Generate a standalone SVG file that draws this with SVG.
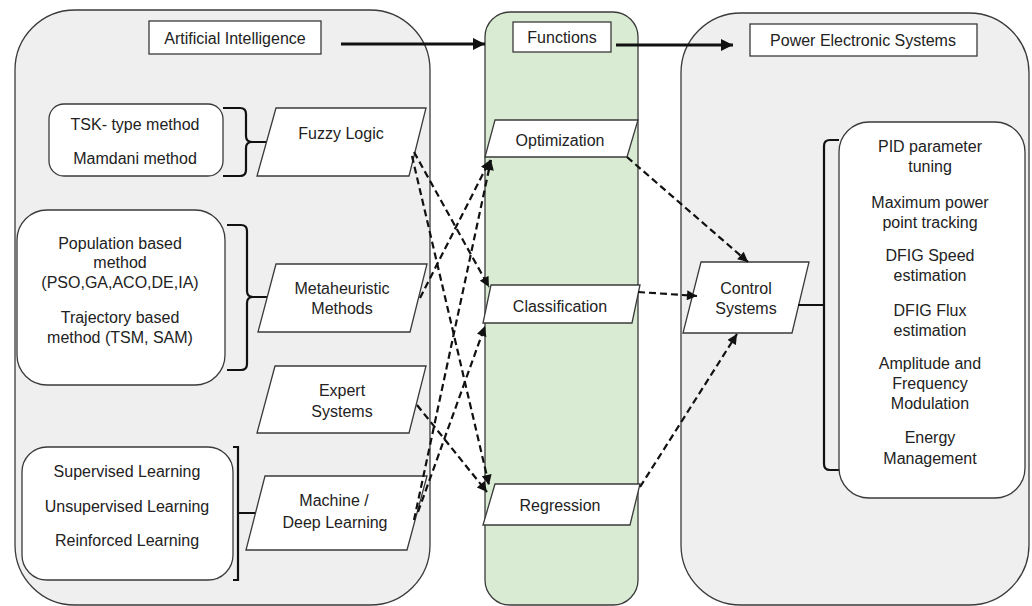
<svg xmlns="http://www.w3.org/2000/svg" width="1032" height="606" viewBox="0 0 1032 606">
  <defs>
    <style>
      .panel { fill: #efefef; stroke: #3a3a3a; stroke-width: 1.3; }
      .green { fill: #d9ecd3; stroke: #3a3a3a; stroke-width: 1.3; }
      .box { fill: #ffffff; stroke: #3a3a3a; stroke-width: 1.3; }
      .brace { fill: none; stroke: #111; stroke-width: 2.2; }
      .t { font-family: "Liberation Sans", Arial, sans-serif; font-size: 16px; fill: #222; text-anchor: middle; }
      .dash { fill: none; stroke: #111; stroke-width: 2.2; stroke-dasharray: 7 4; marker-end: url(#ah); }
      .solid { fill: none; stroke: #111; stroke-width: 3; marker-end: url(#big); }
    </style>
    <marker id="ah" viewBox="0 0 10 10" refX="10" refY="5" markerWidth="11" markerHeight="10" markerUnits="userSpaceOnUse" orient="auto">
      <path d="M0,0 L10,5 L0,10 z" fill="#111"/>
    </marker>
    <marker id="big" viewBox="0 0 10 10" refX="10" refY="5" markerWidth="14" markerHeight="12" markerUnits="userSpaceOnUse" orient="auto">
      <path d="M0,0 L10,5 L0,10 z" fill="#111"/>
    </marker>
  </defs>

  <!-- containers -->
  <g id="ai-panel">
    <rect class="panel" x="15" y="10" width="415" height="595" rx="60" ry="60"/>
    <rect class="box" x="149" y="21" width="172" height="33"/>
    <text class="t" x="235" y="43.5">Artificial Intelligence</text>
  </g>
  <g id="functions-panel">
    <rect class="green" x="485" y="12" width="153" height="593" rx="25" ry="25"/>
    <rect class="box" x="513" y="22" width="98" height="30"/>
    <text class="t" x="562" y="42.5">Functions</text>
  </g>
  <g id="pes-panel">
    <rect class="panel" x="681" y="13" width="348" height="592" rx="60" ry="60"/>
    <rect class="box" x="750" y="24" width="227" height="32"/>
    <text class="t" x="863" y="45.5">Power Electronic Systems</text>
  </g>

  <!-- AI techniques -->
  <g id="fuzzy-methods">
    <rect class="box" x="49" y="104" width="174" height="72" rx="15" ry="15"/>
    <text class="t" x="135" y="129.5">TSK- type method</text>
    <text class="t" x="135" y="163.5">Mamdani method</text>
    <path class="brace" d="M223,108 H240 Q246,108 246,114 V136 Q246,142 252,142 H267 M252,142 Q246,142 246,148 V170 Q246,176 240,176 H223"/>
  </g>
  <g id="fuzzy-logic">
    <polygon class="box" points="276,108 426,108 409,176 257,176"/>
    <text class="t" x="341" y="138.5">Fuzzy Logic</text>
  </g>

  <g id="meta-methods">
    <rect class="box" x="17" y="210" width="208" height="175" rx="30" ry="30"/>
    <text class="t" x="120" y="248.5">Population based</text>
    <text class="t" x="120" y="267.5">method</text>
    <text class="t" x="120" y="287.5">(PSO,GA,ACO,DE,IA)</text>
    <text class="t" x="120" y="322.5">Trajectory based</text>
    <text class="t" x="120" y="342.5">method (TSM, SAM)</text>
    <path class="brace" d="M227,225 H241 Q247,225 247,231 V291 Q247,297 253,297 H267 M253,297 Q247,297 247,303 V364 Q247,370 241,370 H227"/>
  </g>
  <g id="metaheuristic">
    <polygon class="box" points="276,264 427,264 410,332 258,332"/>
    <text class="t" x="342" y="293.5">Metaheuristic</text>
    <text class="t" x="342" y="313.5">Methods</text>
  </g>

  <g id="expert-systems">
    <polygon class="box" points="275,366 426,366 409,433 257,433"/>
    <text class="t" x="342" y="395.5">Expert</text>
    <text class="t" x="342" y="416.5">Systems</text>
  </g>

  <g id="ml-methods">
    <rect class="box" x="22" y="447" width="211" height="133" rx="25" ry="25"/>
    <text class="t" x="127" y="476.5">Supervised Learning</text>
    <text class="t" x="127" y="511.5">Unsupervised Learning</text>
    <text class="t" x="127" y="545.5">Reinforced Learning</text>
    <path class="brace" d="M233,447 H238 V580 H233 M238,513 H256"/>
  </g>
  <g id="machine-learning">
    <polygon class="box" points="265,476 427,476 407,550 246,550"/>
    <text class="t" x="334" y="505.5">Machine /</text>
    <text class="t" x="335" y="527.5">Deep Learning</text>
  </g>

  <!-- functions -->
  <g id="optimization">
    <polygon class="box" points="495,120 638,120 627,157 485,157"/>
    <text class="t" x="560" y="145.5">Optimization</text>
  </g>
  <g id="classification">
    <polygon class="box" points="491,285 640,285 632,323 483,323"/>
    <text class="t" x="560" y="311.5">Classification</text>
  </g>
  <g id="regression">
    <polygon class="box" points="495,484 640,484 630,525 483,525"/>
    <text class="t" x="560" y="510.5">Regression</text>
  </g>

  <!-- power electronic systems -->
  <g id="control-systems">
    <polygon class="box" points="701,262 809,262 792,333 683,333"/>
    <text class="t" x="746" y="293.5">Control</text>
    <text class="t" x="746" y="313.5">Systems</text>
  </g>
  <g id="applications">
    <path class="brace" d="M798,305 H824 M839,140 H830 Q824,140 824,146 V464 Q824,470 830,470 H839"/>
    <rect class="box" x="839" y="122" width="186" height="376" rx="30" ry="30"/>
    <text class="t" x="930" y="151.5">PID parameter</text>
    <text class="t" x="930" y="171.5">tuning</text>
    <text class="t" x="930" y="207.5">Maximum power</text>
    <text class="t" x="930" y="227.5">point tracking</text>
    <text class="t" x="930" y="260.5">DFIG Speed</text>
    <text class="t" x="930" y="280.5">estimation</text>
    <text class="t" x="930" y="315.5">DFIG Flux</text>
    <text class="t" x="930" y="335.5">estimation</text>
    <text class="t" x="930" y="368.5">Amplitude and</text>
    <text class="t" x="930" y="388.5">Frequency</text>
    <text class="t" x="930" y="408.5">Modulation</text>
    <text class="t" x="930" y="442.5">Energy</text>
    <text class="t" x="930" y="463.5">Management</text>
  </g>

  <!-- connectors -->
  <g id="connectors">
    <line class="solid" x1="341" y1="44" x2="485" y2="44"/>
    <line class="solid" x1="616" y1="45" x2="733" y2="45"/>
    <line class="dash" x1="414" y1="152" x2="489" y2="287"/>
    <line class="dash" x1="412" y1="156" x2="489" y2="485"/>
    <line class="dash" x1="420" y1="298" x2="490" y2="160"/>
    <line class="dash" x1="417" y1="405" x2="487" y2="492"/>
    <line class="dash" x1="414" y1="520" x2="491" y2="160"/>
    <line class="dash" x1="418" y1="512" x2="485" y2="326"/>
    <line class="dash" x1="627" y1="157" x2="748" y2="262"/>
    <line class="dash" x1="638" y1="292" x2="697" y2="296"/>
    <line class="dash" x1="640" y1="487" x2="737" y2="334"/>
  </g>
</svg>
